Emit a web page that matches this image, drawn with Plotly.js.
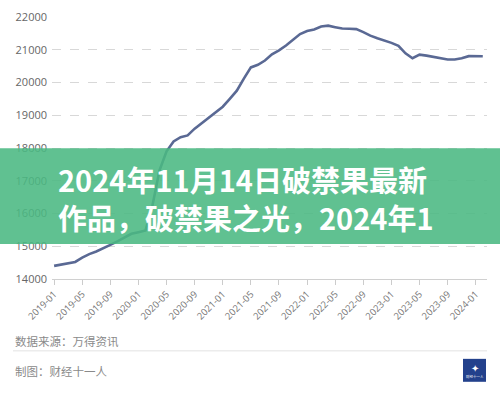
<!DOCTYPE html>
<html><head><meta charset="utf-8">
<script src="https://cdn.plot.ly/plotly-3.0.1.min.js"></script>
<style>html,body{margin:0;padding:0;background:#fff;}#chart{width:500px;height:395px;}</style>
</head><body><div id="chart"></div>
<script>
const months = [
 '2019-01','2019-02','2019-03','2019-04','2019-05','2019-06','2019-07','2019-08','2019-09','2019-10','2019-11','2019-12',
 '2020-01','2020-02','2020-03','2020-04','2020-05','2020-06','2020-07','2020-08','2020-09','2020-10','2020-11','2020-12',
 '2021-01','2021-02','2021-03','2021-04','2021-05','2021-06','2021-07','2021-08','2021-09','2021-10','2021-11','2021-12',
 '2022-01','2022-02','2022-03','2022-04','2022-05','2022-06','2022-07','2022-08','2022-09','2022-10','2022-11','2022-12',
 '2023-01','2023-02','2023-03','2023-04','2023-05','2023-06','2023-07','2023-08','2023-09','2023-10','2023-11','2023-12',
 '2024-01','2024-02'];
const values = [
 14400,14440,14480,14520,14650,14760,14840,14930,15040,15150,15260,15380,
 15430,15480,16250,17320,17900,18200,18330,18385,18590,18760,18930,19080,
 19260,19500,19750,20120,20460,20540,20670,20860,20980,21130,21320,21480,
 21570,21620,21710,21735,21690,21650,21640,21630,21540,21430,21350,21290,
 21210,21120,20890,20740,20850,20820,20780,20740,20700,20700,20740,20805,
 20800,20800];
const yTicks = [14000,15000,16000,17000,18000,19000,20000,21000,22000];
const yTickText = ['14000','15000','16000','17000','18000','19000','20000','21000','22000'];
const bannerLines = ['2024年11月14日破禁果最新','作品，破禁果之光，2024年1'];
const sourceText = '数据来源：万得资讯';
const authorText = '制图：财经十一人';

const L = 52, R = 13, T = 16.5, B = 116;
const W = 500 - L - R, H = 395 - T - B;
const px = x => (x - L) / W;
const py = y => (395 - B - y) / H;

const trace = {
  x: months, y: values, type: 'scatter', mode: 'lines',
  line: {color: '#5a6994', width: 2.6, shape: 'linear'},
  hoverinfo: 'skip'
};
const layout = {
  width: 500, height: 395,
  margin: {l: L, r: R, t: T, b: B},
  paper_bgcolor: '#fff', plot_bgcolor: '#fff',
  showlegend: false,
  font: {family: '"Noto Sans CJK SC", "Noto Sans", sans-serif', color: '#666'},
  xaxis: {
    type: 'category', range: [-0.3, 61.6],
    tickmode: 'array', tickvals: months.filter((m, i) => i % 4 === 0),
    tickangle: -45, tickfont: {size: 9.5, color: '#777', family: '"Open Sans", sans-serif'},
    ticks: 'outside', ticklen: 5, tickcolor: '#ccc',
    showgrid: false, zeroline: false,
    showline: true, linecolor: '#d0d0d0', linewidth: 1
  },
  yaxis: {
    range: [14000, 22000], tickmode: 'array', tickvals: yTicks, ticktext: yTickText,
    tickfont: {size: 11, color: '#666', family: '"Open Sans", sans-serif'},
    showgrid: true, gridcolor: '#d8d8d8', griddash: 'dash', gridwidth: 1,
    zeroline: false, showline: false, ticks: '', ticklabelstandoff: 4
  },
  shapes: [
    {type: 'rect', xref: 'paper', yref: 'paper', x0: px(0), x1: px(500), y0: py(244), y1: py(148),
     fillcolor: 'rgba(74,184,130,0.88)', line: {width: 0}, layer: 'above'},
    {type: 'line', xref: 'paper', yref: 'paper', x0: px(13), x1: px(487), y0: py(351), y1: py(351),
     line: {color: '#e2e2e2', width: 1}},
    {type: 'rect', xref: 'paper', yref: 'paper', x0: px(463), x1: px(486), y0: py(382), y1: py(359),
     fillcolor: '#23418c', line: {width: 0}}
  ],
  annotations: [
    {xref: 'paper', yref: 'paper', x: px(56), y: py(198), xanchor: 'left', yanchor: 'middle', showarrow: false,
     align: 'left',
     text: '<b>' + bannerLines[0] + '</b><br><b>' + bannerLines[1] + '</b>',
     font: {size: 29, color: '#fff', family: '"Noto Sans CJK SC", sans-serif'}},
    {xref: 'paper', yref: 'paper', x: px(13), y: py(341), xanchor: 'left', yanchor: 'middle', showarrow: false,
     text: sourceText, font: {size: 11.5, color: '#8a8a8a'}},
    {xref: 'paper', yref: 'paper', x: px(13), y: py(371), xanchor: 'left', yanchor: 'middle', showarrow: false,
     text: authorText, font: {size: 11.5, color: '#8a8a8a'}},
    {xref: 'paper', yref: 'paper', x: px(474.5), y: py(368), xanchor: 'center', yanchor: 'middle', showarrow: false,
     text: '✦', font: {size: 10, color: '#fff'}},
    {xref: 'paper', yref: 'paper', x: px(474.5), y: py(377), xanchor: 'center', yanchor: 'middle', showarrow: false,
     text: '财经十一人', font: {size: 3.5, color: '#fff'}}
  ]
};
Plotly.newPlot('chart', [trace], layout, {displayModeBar: false, staticPlot: true});
</script></body></html>
